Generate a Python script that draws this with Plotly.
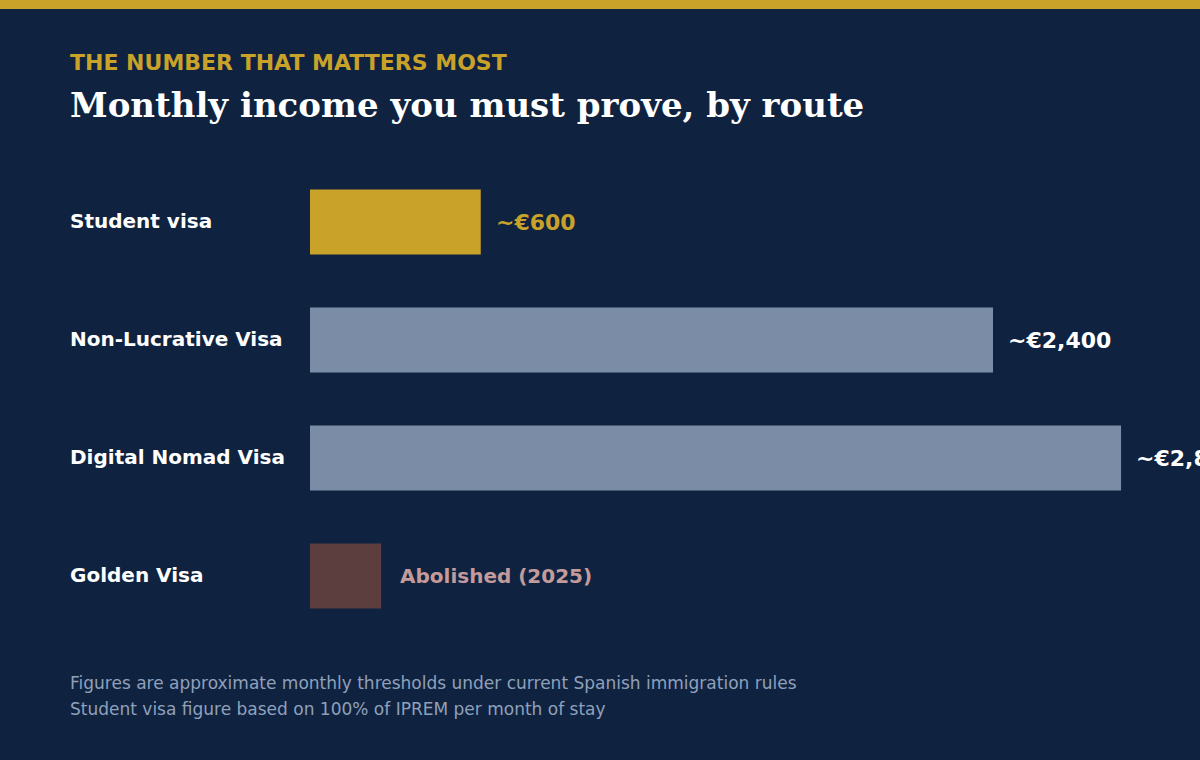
import plotly.graph_objects as go

categories = ["Student visa", "Non-Lucrative Visa", "Digital Nomad Visa", "Golden Visa"]
values = [600, 2400, 2850, 250]
value_labels = ["~€600", "~€2,400", "~€2,850", "Abolished (2025)"]
bar_colors = ["#c9a22a", "#7a8ca6", "#7a8ca6", "#5c3e3e"]
label_colors = ["#c9a22a", "#ffffff", "#ffffff", "#c49a9a"]

kicker = "THE NUMBER THAT MATTERS MOST"
title = "Monthly income you must prove, by route"
notes = ["Figures are approximate monthly thresholds under current Spanish immigration rules",
         "Student visa figure based on 100% of IPREM per month of stay"]

W, H = 1200, 760
ML, MR, MT, MB = 310, 0, 163, 125
PW, PH = W - ML - MR, H - MT - MB
BG = "#0f2340"


def px(x):
    return (x - ML) / PW


def py(y):
    return (H - MB - y) / PH


fig = go.Figure()
fig.add_trace(go.Bar(
    x=values, y=categories, orientation="h",
    marker=dict(color=bar_colors, line=dict(width=0)),
    hoverinfo="skip",
))

ann = []
for c, v, t, col in zip(categories, values, value_labels, label_colors):
    ann.append(dict(x=px(68), xref="paper", y=c, yref="y", text=c, showarrow=False,
                    xanchor="left", yanchor="middle", yshift=1,
                    font=dict(family="DejaVu Sans", size=20, color="#ffffff", weight="bold")))
    ann.append(dict(x=v, xref="x", y=c, yref="y", text=t, showarrow=False,
                    xanchor="left", yanchor="middle", xshift=13 if v > 300 else 17,
                    font=dict(family="DejaVu Sans", size=22 if v > 300 else 20, color=col, weight="bold")))

ann.append(dict(x=px(68), y=py(62), xref="paper", yref="paper", text=kicker, showarrow=False,
                xanchor="left", yanchor="middle",
                font=dict(family="DejaVu Sans", size=22, color="#c9a22a", weight="bold")))
ann.append(dict(x=px(68), y=py(105), xref="paper", yref="paper", text=title, showarrow=False,
                xanchor="left", yanchor="middle",
                font=dict(family="DejaVu Serif", size=34, color="#ffffff", weight="bold")))
for i, n in enumerate(notes):
    ann.append(dict(x=px(68), y=py(683 + 26 * i), xref="paper", yref="paper", text=n, showarrow=False,
                    xanchor="left", yanchor="middle",
                    font=dict(family="DejaVu Sans", size=17, color="#8fa0bb")))

fig.update_layout(
    width=W, height=H,
    margin=dict(l=ML, r=MR, t=MT, b=MB, pad=0),
    paper_bgcolor=BG, plot_bgcolor=BG,
    showlegend=False,
    bargap=0.449,
    xaxis=dict(range=[0, PW / (683 / 2400)], visible=False, fixedrange=True),
    yaxis=dict(categoryorder="array", categoryarray=categories, autorange="reversed",
               visible=False, fixedrange=True),
    annotations=ann,
    shapes=[dict(type="rect", xref="paper", yref="paper", x0=px(0), x1=px(W), y0=py(9), y1=py(0),
                 fillcolor="#c9a22a", line=dict(width=0), layer="above")],
)

fig.write_html("out.html", config={"displayModeBar": False})
